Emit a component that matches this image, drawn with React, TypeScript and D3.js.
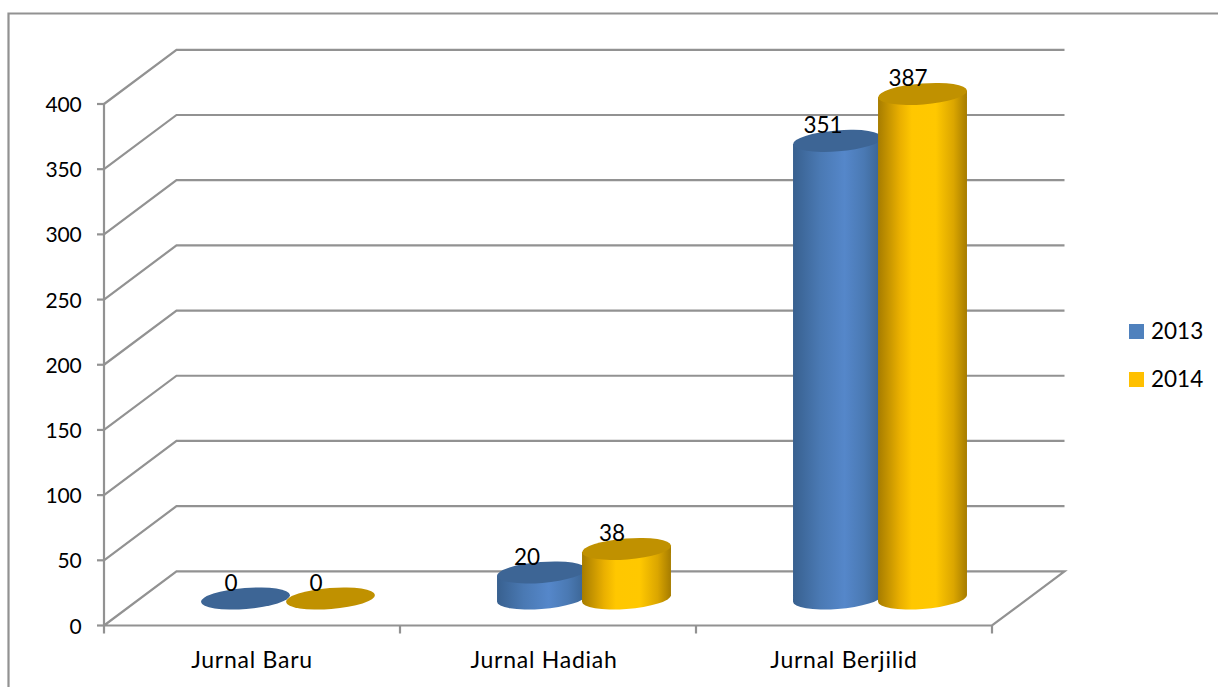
import React from "react";
import * as d3 from "d3";

const categories = ["Jurnal Baru", "Jurnal Hadiah", "Jurnal Berjilid"];
const seriesNames = ["2013", "2014"];
const values2013 = [0, 20, 351];
const values2014 = [0, 38, 387];
const yTicks = [0, 50, 100, 150, 200, 250, 300, 350, 400];
const sideStops = [
  [
    [0, "#38608f"],
    [0.3, "#4a79b3"],
    [0.58, "#5587ca"],
    [0.8, "#4a79b3"],
    [1, "#3a6391"],
  ],
  [
    [0, "#a67c00"],
    [0.25, "#eab000"],
    [0.38, "#ffc700"],
    [0.65, "#ffc800"],
    [0.85, "#dba600"],
    [1, "#a67c00"],
  ],
];
const topColors = ["#3d6595", "#c09100"];
const legendColors = ["#4f81bd", "#ffc000"];

const W = 1218;
const H = 687;
const depthX = 72.5;
const depthY = 54.2;
const floorY = 625.5;
const font = "Lato, 'Open Sans', sans-serif";
const grey = "#929292";

const y = d3.scaleLinear().domain([0, 400]).range([floorY, 104]);
const x = d3.scaleBand<string>().domain(categories).range([104, 992]);

const RX = 44.6;
const RY = 10.5;
const TILT = (-4.5 * Math.PI) / 180;
const baseCy = 598.5;

function tangent() {
  const t = Math.atan2(-RY * Math.sin(TILT), RX * Math.cos(TILT));
  const dx = RX * Math.cos(t) * Math.cos(TILT) - RY * Math.sin(t) * Math.sin(TILT);
  const dy = RX * Math.cos(t) * Math.sin(TILT) + RY * Math.sin(t) * Math.cos(TILT);
  return { dx, dy };
}

function Cylinder({ cx, value, s }: { cx: number; value: number; s: number }) {
  const h = floorY - y(value);
  const topCy = baseCy - h;
  const { dx, dy } = tangent();
  const deg = (TILT * 180) / Math.PI;
  // The top edge of the side runs straight through the cap, so no seam shows between them.
  const d =
    `M${cx - dx},${topCy - dy} L${cx - dx},${baseCy - dy} ` +
    `A${RX},${RY} ${deg} 0 0 ${cx + dx},${baseCy + dy} ` +
    `L${cx + dx},${topCy + dy} Z`;
  return (
    <g>
      {value > 0 && <path d={d} fill={`url(#side${s})`} />}
      <ellipse
        cx={0}
        cy={0}
        rx={RX}
        ry={RY}
        fill={topColors[s]}
        transform={`translate(${cx},${topCy}) rotate(${deg})`}
      />
    </g>
  );
}

export default function App() {
  const series = [values2013, values2014];
  const offsets = [-42.5, 42.5];
  const center = (c: string) => (x(c) as number) + x.bandwidth() / 2 + 36;
  const labelY = (v: number) => baseCy - (floorY - y(v)) - 7.5;
  return (
    <svg
      width={W}
      height={H}
      viewBox={`0 0 ${W} ${H}`}
      style={{ position: "absolute", left: 0, top: 0, display: "block", background: "#fff" }}
    >
      <defs>
        {sideStops.map((stops, i) => (
          <linearGradient key={i} id={`side${i}`} x1="0" x2="1" y1="0" y2="0">
            {stops.map(([o, c], j) => (
              <stop key={j} offset={o as number} stopColor={c as string} />
            ))}
          </linearGradient>
        ))}
      </defs>

      <path d={`M8.5,${H} L8.5,13.5 L${W},13.5`} fill="none" stroke={grey} strokeWidth={2.2} />

      {/* walls and floor */}
      <g fill="none" stroke={grey} strokeWidth={2.2}>
        {yTicks.map((t) => {
          const py = y(t);
          return (
            <path
              key={t}
              d={
                t === 0
                  ? `M104,${py} L992,${py} L${992 + depthX},${py - depthY} L${104 + depthX},${py - depthY} L104,${py}`
                  : `M104,${py} L${104 + depthX},${py - depthY} L${992 + depthX},${py - depthY}`
              }
            />
          );
        })}
        <line x1={104} x2={104} y1={y(400)} y2={floorY + 8} />
        {yTicks.map((t) => (
          <line key={t} x1={97} x2={104} y1={y(t)} y2={y(t)} />
        ))}
        {categories.map((c) => (
          <line key={c} x1={(x(c) as number) + x.bandwidth()} x2={(x(c) as number) + x.bandwidth()} y1={floorY} y2={floorY + 8} />
        ))}
      </g>

      <g fontFamily={font} fontSize={21} fill="#000">
        {yTicks.map((t) => (
          <text key={t} x={81.5} y={y(t) + 8} textAnchor="end" letterSpacing={-0.2}>
            {t}
          </text>
        ))}
      </g>
      <g fontFamily={font} fontSize={23} fill="#000" letterSpacing={0.75}>
        {categories.map((c, i) => (
          <text key={c} x={(x(c) as number) + x.bandwidth() / 2 + (i === 1 ? -4 : 0)} y={668} textAnchor="middle">
            {c}
          </text>
        ))}
      </g>

      {categories.map((c, ci) => (
        <g key={c}>
          {series.map((vals, s) => (
            <Cylinder key={s} cx={center(c) + offsets[s]} value={vals[ci]} s={s} />
          ))}
        </g>
      ))}

      <g fontFamily={font} fontSize={22.5} fill="#000" textAnchor="middle">
        {categories.map((c, ci) =>
          series.map((vals, s) => (
            <text key={`${c}${s}`} x={center(c) + offsets[s] - 14.5} y={labelY(vals[ci])}>
              {vals[ci]}
            </text>
          )),
        )}
      </g>

      <g fontFamily={font} fontSize={22.5} fill="#000">
        {seriesNames.map((n, i) => (
          <g key={n} transform={`translate(0,${i * 48})`}>
            <rect x={1129} y={324} width={15} height={15} fill={legendColors[i]} />
            <text x={1151} y={339}>
              {n}
            </text>
          </g>
        ))}
      </g>
    </svg>
  );
}
